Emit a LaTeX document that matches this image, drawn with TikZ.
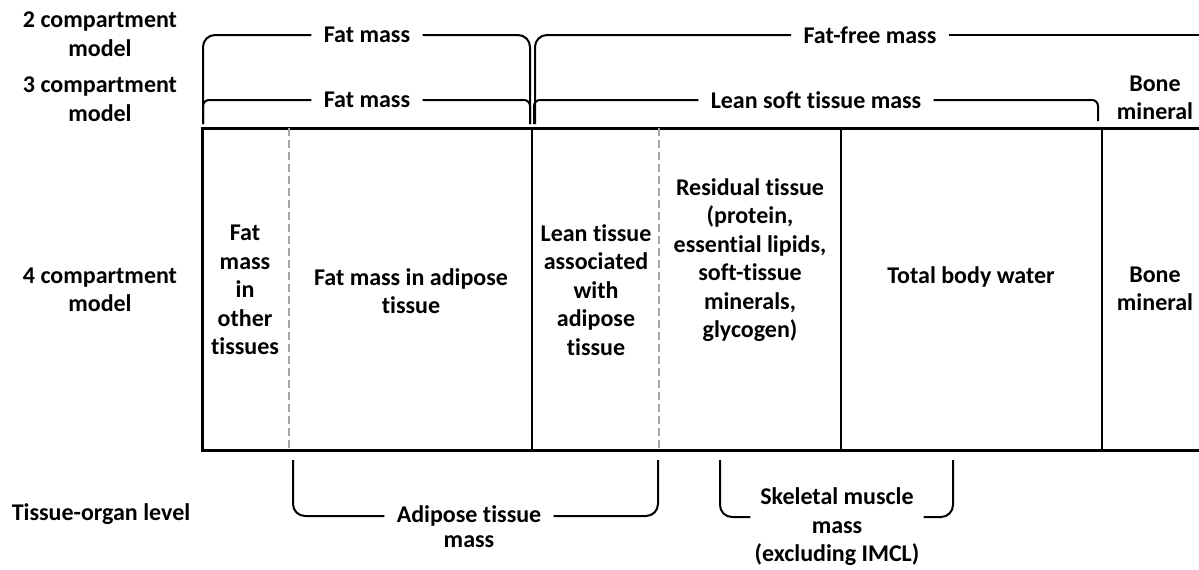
\documentclass[tikz,border=0pt]{standalone}
\usepackage{fontspec}
\setmainfont{Carlito}[Ligatures=NoCommon]
\usetikzlibrary{positioning}

\tikzstyle{txt}=[font=\fontsize{12}{14.25}\selectfont\bfseries,align=center]
\tikzstyle{levelText}=[txt]
\tikzstyle{cellText}=[txt]
\tikzstyle{bracketText}=[txt,inner xsep=6pt,inner ysep=0pt]
\tikzstyle{bracket}=[draw,line width=1pt,rounded corners=6pt]
\tikzstyle{smallBracket}=[draw,line width=1pt,rounded corners=3pt]
\tikzstyle{solidDivider}=[draw,line width=1pt]
\tikzstyle{dashedDivider}=[draw,gray!70,line width=1pt,dash pattern=on 4pt off 2pt]

\begin{document}
\begin{tikzpicture}[x=0.5pt,y=-0.5pt]
  \useasboundingbox (0,0) rectangle (1199,569);
  \clip (0,0) rectangle (1199,569);

  % level names
  \node[levelText] (twoComp) at (100,34) {2 compartment\\model};
  \node[levelText] (threeComp) at (100,99) {3 compartment\\model};
  \node[levelText] (fourComp) at (100,290) {4 compartment\\model};
  \node[levelText] (tissueOrgan) at (101,514) {Tissue-organ level};

  % body box
  \draw[line width=1.5pt] (1215,128) -- (202,128) -- (202,450) -- (1215,450);
  \path[dashedDivider] (289,128) -- (289,450);
  \path[solidDivider] (532,128) -- (532,450);
  \path[dashedDivider] (659,128) -- (659,450);
  \path[solidDivider] (841,128) -- (841,450);
  \path[solidDivider] (1102,128) -- (1102,450);

  % 4 compartment cells
  \node[cellText] (fatOther) at (245,290) {Fat\\mass\\in\\other\\tissues};
  \node[cellText] (fatAdipose) at (411,291) {Fat mass in adipose\\tissue};
  \node[cellText] (leanAdipose) at (596,290) {Lean tissue\\associated\\with\\adipose\\tissue};
  \node[cellText] (residual) at (750,260) {Residual tissue\\(protein,\\essential lipids,\\soft-tissue\\minerals,\\glycogen)};
  \node[cellText] (water) at (971,277) {Total body water};
  \node[cellText] (bone4) at (1155,289) {Bone\\mineral};

  % 2 compartment model
  \node[bracketText] (fatMass2) at (367,35) {Fat mass};
  \path[bracket] (fatMass2.west) -| (203,124);
  \path[bracket] (fatMass2.east) -| (530,124);
  \node[bracketText] (fatFree) at (870,35) {Fat-free mass};
  \path[bracket] (fatFree.west) -| (535,124);
  \path[bracket] (fatFree.east) -- (1215,35);

  % 3 compartment model
  \node[bracketText] (fatMass3) at (367,100) {Fat mass};
  \path[smallBracket] (fatMass3.west) -| (203,124);
  \path[smallBracket] (fatMass3.east) -| (530,124);
  \node[bracketText] (leanSoft) at (816,100) {Lean soft tissue mass};
  \path[smallBracket] (leanSoft.west) -| (534,124);
  \path[smallBracket] (leanSoft.east) -| (1098,121);
  \node[cellText] (bone3) at (1155,98) {Bone\\mineral};

  % tissue-organ level
  \node[bracketText] (adipose) at (469,516) {Adipose tissue};
  \node[cellText] (adiposeMass) at (469,542) {mass};
  \path[bracket] (adipose.west) -| (293,460);
  \path[bracket] (adipose.east) -| (658,460);
  \node[bracketText,inner xsep=2pt] (muscle) at (837,527) {Skeletal muscle\\mass\\(excluding IMCL)};
  \path[bracket] ([yshift=5pt]muscle.west) -| (720,460);
  \path[bracket] ([yshift=5pt]muscle.east) -| (953,460);

\end{tikzpicture}
\end{document}
